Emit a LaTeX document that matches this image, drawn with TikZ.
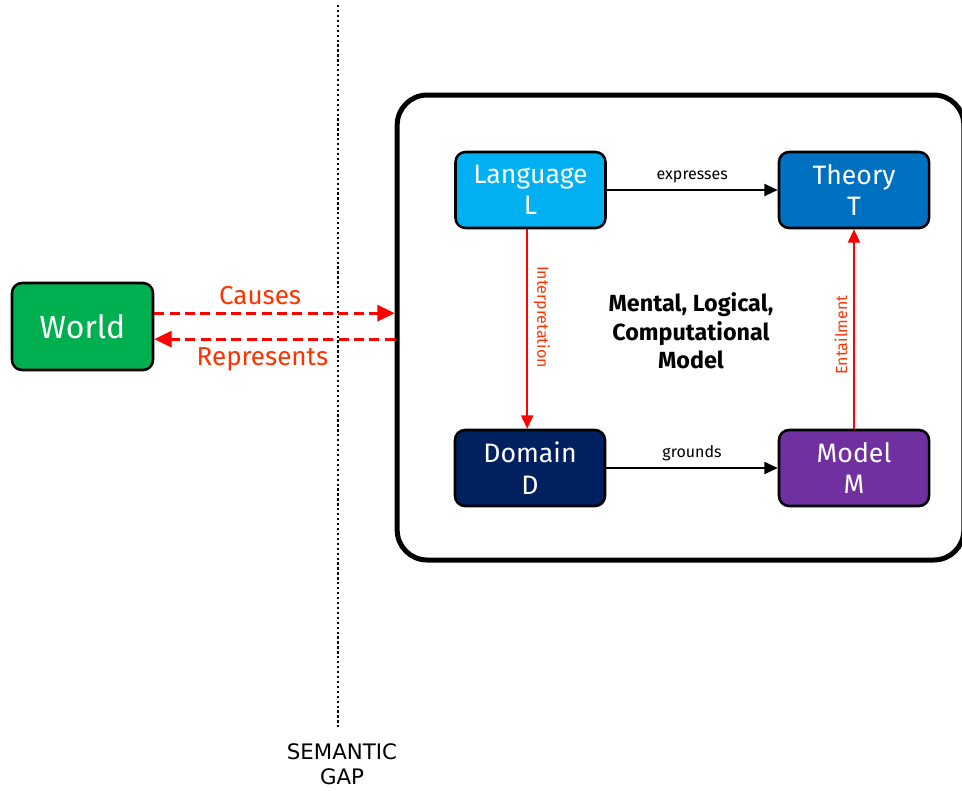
\documentclass[tikz,border=0pt]{standalone}
\usepackage{fontspec}
\setmainfont{Fira Sans}
\newfontfamily\gapfont{DejaVu Sans}
\usepackage{xcolor}
\usepackage{tikz}
\usetikzlibrary{arrows.meta}

\begin{document}
\begin{tikzpicture}[x=0.75pt, y=-0.75pt,
  box/.style={draw, line width=1.9pt, rounded corners=7.5pt, minimum width=112.5pt, minimum height=57pt, align=center, text=white, font=\fontsize{20}{23.5}\selectfont},
  rel/.style={line width=1.5pt, -{Triangle[length=10pt, width=9pt]}},
  redrel/.style={draw=red, line width=1.5pt, -{Triangle[length=10pt, width=9pt]}},
  dasharrow/.style={draw=red, line width=2.3pt, dash pattern=on 7.5pt off 4pt, -{Triangle[length=13pt, width=12pt]}},
  redtext/.style={text=labelRed},
  small/.style={font=\fontsize{12}{14}\selectfont}]
  \definecolor{worldGreen}{RGB}{0,176,80}
  \definecolor{langBlue}{RGB}{0,176,240}
  \definecolor{theoryBlue}{RGB}{0,112,192}
  \definecolor{domainNavy}{RGB}{0,32,96}
  \definecolor{modelPurple}{RGB}{112,48,160}
  \definecolor{labelRed}{RGB}{255,51,0}

  \useasboundingbox (0,0) rectangle (962,790);

  % semantic gap
  \coordinate (gapTop) at (338,5);
  \coordinate (gapBottom) at (338,727);
  \draw[line width=1.7pt, dash pattern=on 1.7pt off 2pt] (gapTop) -- (gapBottom);
  \node[align=center, font=\gapfont\fontsize{16}{19}\selectfont] (gap) at (342,764) {SEMANTIC\\GAP};

  % the world and the model frame
  \node[box, fill=worldGreen, minimum width=105.75pt, minimum height=65.25pt, font=\fontsize{24}{28}\selectfont] (World) at (82.5,326.5) {World};
  \node[draw, line width=3.75pt, rounded corners=22.5pt, minimum width=425pt, minimum height=348.75pt] (frame) at (680.5,327.5) {};

  \node[box, fill=langBlue] (Language) at (530.5,190) {Language\\L};
  \node[box, fill=theoryBlue] (Theory) at (854,190) {Theory\\T};
  \node[box, fill=domainNavy] (Domain) at (530,468) {Domain\\D};
  \node[box, fill=modelPurple] (Model) at (854,468) {Model\\M};

  \node[align=center, font=\bfseries\fontsize{17.5}{21.5}\selectfont] (title) at (691,331) {Mental, Logical,\\Computational\\Model};

  \draw[rel] (Language) -- node[above, small, yshift=1pt] {expresses} (Theory);
  \draw[rel] (Domain) -- node[above, small, yshift=1pt] {grounds} (Model);
  \draw[redrel] ([xshift=-2.5pt]Language.south) -- node[pos=0.44, redtext, rotate=-90, anchor=south, small, yshift=1pt] {Interpretation} ([xshift=-2.5pt]Language.south |- Domain.north);
  \draw[redrel] (Model.north) -- node[pos=0.47, redtext, rotate=90, anchor=south, small, yshift=1pt] {Entailment} (Theory.south);

  \draw[dasharrow] ([yshift=10pt]World.east) -- node[pos=0.44, above, redtext, yshift=2pt, font=\fontsize{19.5}{23}\selectfont] {Causes} ([yshift=10pt]World.east -| frame.west);
  \draw[dasharrow] ([yshift=-9.5pt]World.east -| frame.west) -- node[pos=0.55, below, redtext, yshift=-2pt, font=\fontsize{19.5}{23}\selectfont] {Represents} ([yshift=-9.5pt]World.east);
\end{tikzpicture}
\end{document}
